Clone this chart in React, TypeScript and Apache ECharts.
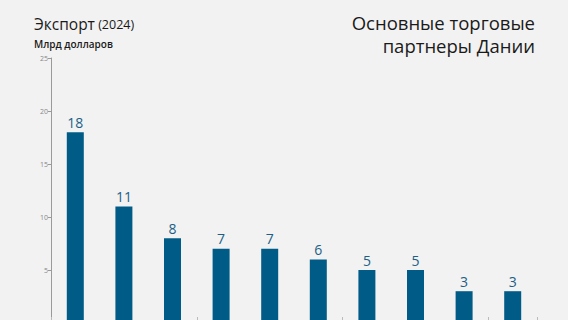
import React, { useEffect, useRef } from "react";
import * as echarts from "echarts";

const categories = ["Германия", "Швеция", "США", "Норвегия", "Великобритания", "Нидерланды", "Китай", "Польша", "Франция", "Италия"];
const exportValues = [18, 11, 8, 7, 7, 6, 5, 5, 3, 3];
const yTicks = [0, 5, 10, 15, 20, 25];

export default function App() {
  const ref = useRef<HTMLDivElement>(null);
  useEffect(() => {
    if (!ref.current) return;
    const chart = echarts.init(ref.current, null, { renderer: "svg" });
    const font = "'Open Sans', 'Noto Sans', sans-serif";
    chart.setOption({
      animation: false,
      backgroundColor: "#f2f2f2",
      textStyle: { fontFamily: font },
      grid: { left: 51, right: 31, top: 58, bottom: 37, containLabel: false },
      graphic: [
        {
          type: "text",
          left: 34,
          top: 16,
          style: {
            text: "{a|Экспорт}{b| (2024)}",
            rich: {
              a: { fontSize: 15.5, fontFamily: font, fill: "#1a1a1a", fontWeight: 500 },
              b: { fontSize: 12.5, fontFamily: font, fill: "#1a1a1a" },
            },
          },
        },
        {
          type: "text",
          left: 34,
          top: 39,
          style: { text: "Млрд долларов", fontSize: 10, fontWeight: 600, fontFamily: font, fill: "#1a1a1a" },
        },
        {
          type: "text",
          right: 33,
          top: 13,
          style: { text: "Основные торговые", fontSize: 18.5, fontFamily: font, fill: "#1a1a1a" },
        },
        {
          type: "text",
          right: 33,
          top: 36,
          style: { text: "партнеры Дании", fontSize: 18.5, fontFamily: font, fill: "#1a1a1a" },
        },
      ],
      xAxis: {
        type: "category",
        data: categories,
        axisLine: { show: false },
        axisTick: { show: true, inside: true, length: 6, lineStyle: { color: "#bbb" } },
        axisLabel: { show: false },
      },
      yAxis: {
        type: "value",
        min: yTicks[0],
        max: yTicks[yTicks.length - 1],
        interval: 5,
        splitLine: { show: false },
        axisLine: { show: true, lineStyle: { color: "#9a9a9a", width: 1 } },
        axisTick: { show: true, length: 3, lineStyle: { color: "#9a9a9a" } },
        axisLabel: { fontSize: 7, color: "#888", margin: 3 },
      },
      series: [
        {
          type: "bar",
          data: exportValues,
          barWidth: 17,
          itemStyle: { color: "#005c87" },
          label: {
            show: true,
            position: "top",
            distance: 3,
            fontSize: 14,
            color: "#1d5f86",
            fontFamily: font,
          },
        },
      ],
    });
    return () => chart.dispose();
  }, []);
  return (
    <div style={{ position: "fixed", top: 0, left: 0, width: 568, height: 320, overflow: "hidden" }}>
      <div ref={ref} style={{ width: 568, height: 360 }} />
    </div>
  );
}
